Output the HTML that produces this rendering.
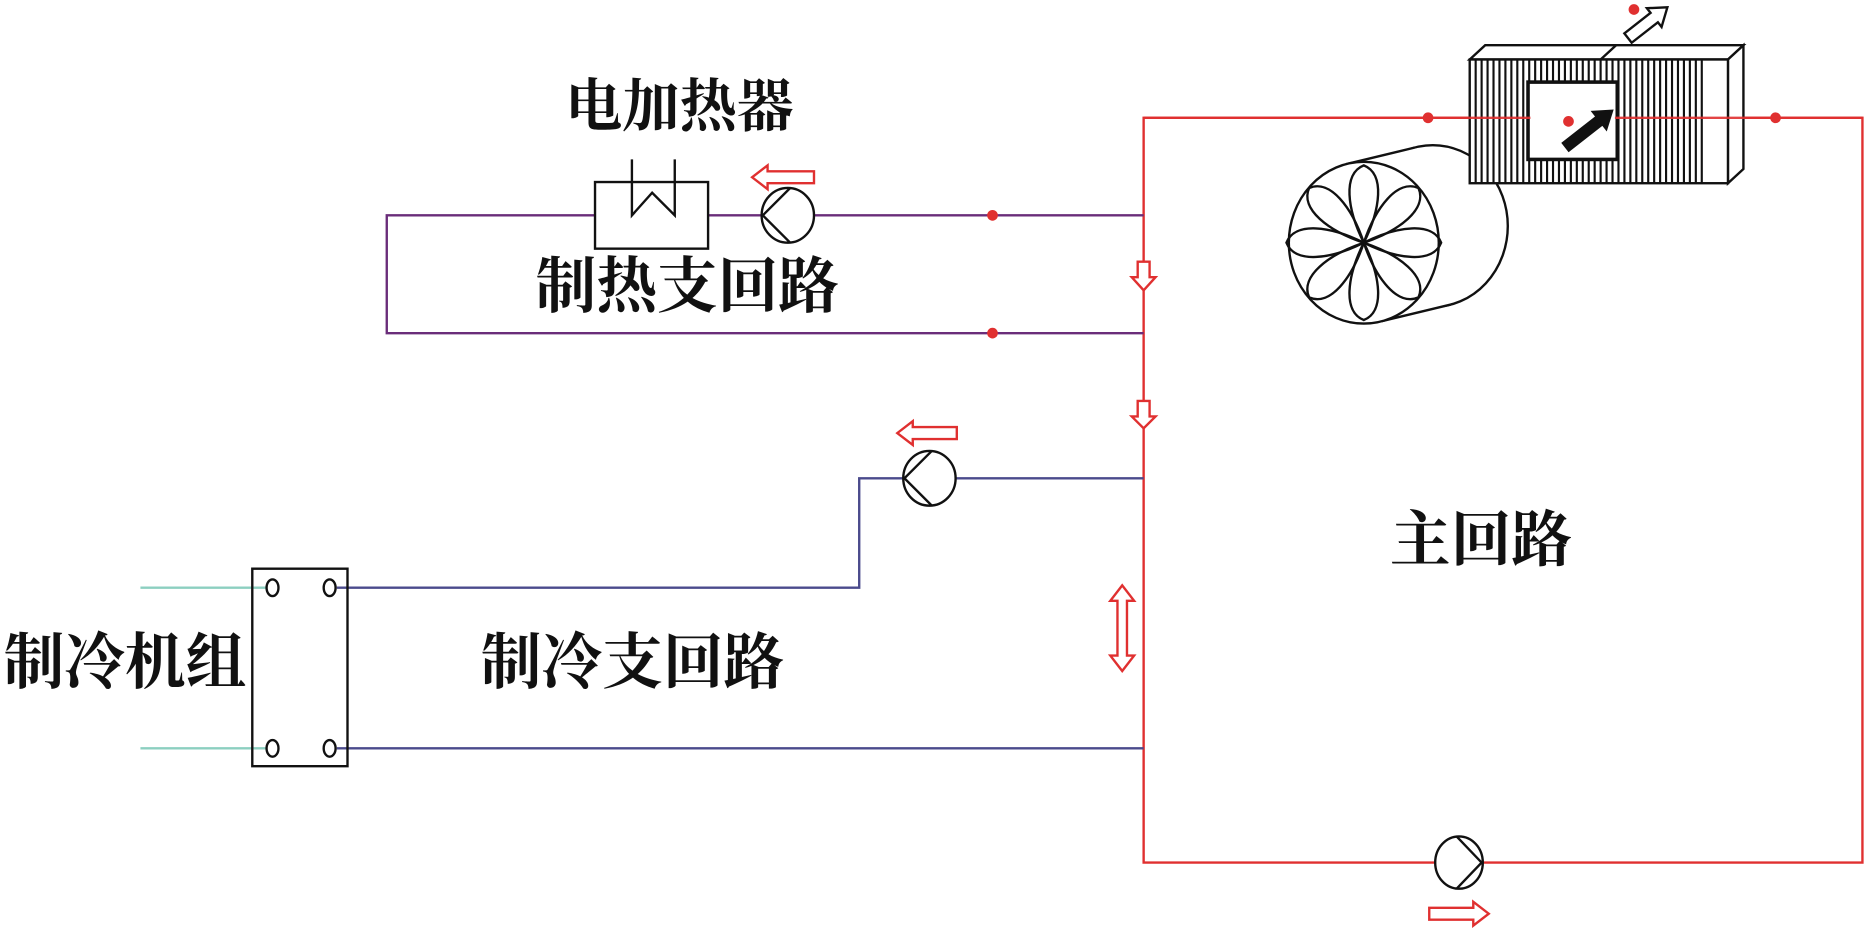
<!DOCTYPE html>
<html><head><meta charset="utf-8"><style>
html,body{margin:0;padding:0;background:#fff;}
svg{display:block;}
text{font-family:"Liberation Serif","Noto Serif CJK SC",serif;fill:#111;font-weight:bold;}
</style></head><body>
<svg width="1866" height="928" viewBox="0 0 1568 780" preserveAspectRatio="none" xmlns="http://www.w3.org/2000/svg">
<defs>
<clipPath id="coil"><rect x="1235" y="50" width="200" height="104"/></clipPath>
</defs>
<g stroke="#e03030" stroke-width="2" fill="none">
<rect x="961" y="99" width="604" height="626"/>
</g>
<!-- fan -->
<g stroke="#111" stroke-width="2" fill="#fff">
<ellipse cx="1204" cy="190" rx="63" ry="68"/>
<polygon points="1131,138 1189,124 1219,256 1161,270" stroke="none"/>
<line x1="1131" y1="138" x2="1189" y2="124"/>
<line x1="1161" y1="270" x2="1219" y2="256"/>
<ellipse cx="1146" cy="204" rx="63" ry="68"/>
</g>
<g stroke="#111" stroke-width="2" fill="none">
<g transform="translate(1146,204)">
<path id="pt" d="M0 0 C-14 -28 -18 -58 0 -65 C18 -58 14 -28 0 0Z"/>
<path d="M0 0 C-14 -28 -18 -58 0 -65 C18 -58 14 -28 0 0Z" transform="rotate(45)"/>
<path d="M0 0 C-14 -28 -18 -58 0 -65 C18 -58 14 -28 0 0Z" transform="rotate(90)"/>
<path d="M0 0 C-14 -28 -18 -58 0 -65 C18 -58 14 -28 0 0Z" transform="rotate(135)"/>
<path d="M0 0 C-14 -28 -18 -58 0 -65 C18 -58 14 -28 0 0Z" transform="rotate(180)"/>
<path d="M0 0 C-14 -28 -18 -58 0 -65 C18 -58 14 -28 0 0Z" transform="rotate(225)"/>
<path d="M0 0 C-14 -28 -18 -58 0 -65 C18 -58 14 -28 0 0Z" transform="rotate(270)"/>
<path d="M0 0 C-14 -28 -18 -58 0 -65 C18 -58 14 -28 0 0Z" transform="rotate(315)"/>
</g>
</g>
<!-- coil -->
<g stroke="#111" stroke-width="2" fill="#fff">
<polygon points="1235,50 1248,38 1465,38 1452,50"/>
<polygon points="1452,50 1465,38 1465,142 1452,154"/>
<rect x="1235" y="50" width="217" height="104"/>
</g>
<g stroke="#111" stroke-width="1.8" clip-path="url(#coil)">
<path d="M1240 50V154M1245 50V154M1250 50V154M1255 50V154M1260 50V154M1265 50V154M1270 50V154M1275 50V154M1280 50V154M1285 50V154M1290 50V154M1295 50V154M1300 50V154M1305 50V154M1310 50V154M1315 50V154M1320 50V154M1325 50V154M1330 50V154M1335 50V154M1340 50V154M1345 50V154M1350 50V154M1355 50V154M1360 50V154M1365 50V154M1370 50V154M1375 50V154M1380 50V154M1385 50V154M1390 50V154M1395 50V154M1400 50V154M1405 50V154M1410 50V154M1415 50V154M1420 50V154M1425 50V154M1430 50V154"/>
</g>
<line x1="1345" y1="50" x2="1358" y2="38" stroke="#111" stroke-width="2"/>
<rect x="1284" y="69" width="75" height="65" fill="#fff" stroke="#111" stroke-width="3"/>
<line x1="961" y1="99" x2="1565" y2="99" stroke="#e03030" stroke-width="2" opacity="0.9"/>
<rect x="1286" y="71" width="71" height="61" fill="#fff"/>
<g transform="translate(1315,124) rotate(-38)">
<polygon points="0,-5 36,-5 36,-11 52,0 36,11 36,5 0,5" fill="#111"/>
</g>
<circle cx="1318" cy="102" r="4.5" fill="#e03030"/>
<g transform="translate(1368,32) rotate(-38)">
<polygon points="0,-5 28,-5 28,-10 42,0 28,10 28,5 0,5" fill="#fff" stroke="#111" stroke-width="2"/>
</g>
<circle cx="1373" cy="8" r="4.5" fill="#e03030"/>
<circle cx="1200" cy="99" r="4.5" fill="#e03030"/>
<circle cx="1492" cy="99" r="4.5" fill="#e03030"/>

<!-- heating branch -->
<g stroke="#6a2d7a" stroke-width="2" fill="none">
<polyline points="961,181 684,181"/>
<polyline points="640,181 595,181"/>
<polyline points="500,181 325,181 325,280 961,280"/>
</g>
<circle cx="834" cy="181" r="4.5" fill="#e03030"/>
<circle cx="834" cy="280" r="4.5" fill="#e03030"/>
<rect x="500" y="153" width="95" height="56" fill="#fff" stroke="#111" stroke-width="2"/>
<polyline points="531,134 531,181 548,162 567,181 567,134" stroke="#111" stroke-width="2" fill="none"/>
<ellipse cx="662" cy="181" rx="22" ry="23" fill="#fff" stroke="#111" stroke-width="2"/>
<polyline points="664,158 641,181 664,204" stroke="#111" stroke-width="2" fill="none"/>
<polygon points="684,144 645,144 645,139 632,149 645,159 645,154 684,154" fill="#fff" stroke="#e03030" stroke-width="2"/>

<!-- cooling branch -->
<g stroke="#4a4a8c" stroke-width="2" fill="none">
<polyline points="961,402 803,402"/>
<polyline points="759,402 722,402 722,494 283,494"/>
<polyline points="961,629 283,629"/>
</g>
<g stroke="#8ccfc0" stroke-width="2">
<line x1="118" y1="494" x2="224" y2="494"/>
<line x1="118" y1="629" x2="224" y2="629"/>
</g>
<rect x="212" y="478" width="80" height="166" fill="none" stroke="#111" stroke-width="2"/>
<g stroke="#111" stroke-width="2" fill="#fff">
<ellipse cx="229" cy="494" rx="5" ry="7"/>
<ellipse cx="277" cy="494" rx="5" ry="7"/>
<ellipse cx="229" cy="629" rx="5" ry="7"/>
<ellipse cx="277" cy="629" rx="5" ry="7"/>
</g>
<ellipse cx="781" cy="402" rx="22" ry="23" fill="#fff" stroke="#111" stroke-width="2"/>
<polyline points="783,379 760,402 783,425" stroke="#111" stroke-width="2" fill="none"/>
<polygon points="804,359 767,359 767,354 754,364 767,374 767,369 804,369" fill="#fff" stroke="#e03030" stroke-width="2"/>

<!-- main pump -->
<ellipse cx="1226" cy="725" rx="20" ry="22" fill="#fff" stroke="#111" stroke-width="2"/>
<polyline points="1224,703 1245,725 1224,747" stroke="#111" stroke-width="2" fill="none"/>
<polygon points="1201,763 1238,763 1238,758 1251,768 1238,778 1238,773 1201,773" fill="#fff" stroke="#e03030" stroke-width="2"/>

<polygon points="956,220 966,220 966,233 971,233 961,244 951,233 956,233" fill="#fff" stroke="#e03030" stroke-width="2"/>
<polygon points="956,337 966,337 966,350 971,350 961,360 951,350 956,350" fill="#fff" stroke="#e03030" stroke-width="2"/>
<polygon points="943,492 953,505 947,505 947,551 953,551 943,564 933,551 939,551 939,505 933,505" fill="#fff" stroke="#e03030" stroke-width="2"/>

<text x="475" y="106" font-size="48">电加热器</text>
<text x="450" y="258" font-size="51">制热支回路</text>
<text x="1168" y="471" font-size="51">主回路</text>
<text x="3" y="574" font-size="51">制冷机组</text>
<text x="404" y="574" font-size="51">制冷支回路</text>
</svg>
</body></html>
